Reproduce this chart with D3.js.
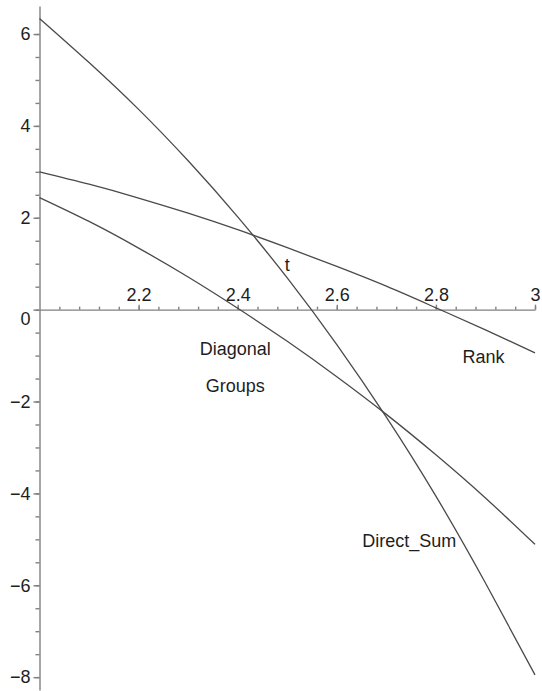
<!DOCTYPE html>
<html>
<head>
<meta charset="utf-8">
<script src="https://d3js.org/d3.v7.min.js"></script>
<style>
  body { margin: 0; background: #fff; }
  svg { display: block; }
  .axis path, .axis line { stroke: #808080; stroke-width: 1.4px; }
  .axis text { font-family: "Liberation Sans", Arial, sans-serif; font-size: 18px; fill: #1e1e1e; }
  .curve { fill: none; stroke: #4a4a4a; stroke-width: 1.3px; }
  .label { font-family: "Liberation Sans", Arial, sans-serif; font-size: 18px; fill: #1e1e1e; }
</style>
</head>
<body>
<script>
var width = 542,
    height = 691;

var tValues    = [2.0, 2.1, 2.2, 2.3, 2.4, 2.5, 2.6, 2.7, 2.8, 2.9, 3.0];
var directSum  = [6.34, 5.38, 4.36, 3.24, 2.02, 0.69, -0.76, -2.34, -4.06, -5.95, -7.95];
var rank       = [3.00, 2.73, 2.43, 2.10, 1.74, 1.35, 0.94, 0.51, 0.04, -0.44, -0.94];
var diagGroups = [2.44, 1.92, 1.34, 0.71, 0.03, -0.69, -1.46, -2.28, -3.16, -4.10, -5.11];

var xTicks = [2.2, 2.4, 2.6, 2.8, 3];
var yTicks = [-8, -6, -4, -2, 0, 2, 4, 6];

// text placed on the plot, in data coordinates
var labelText   = ["t", "Diagonal", "Groups", "Rank", "Direct_Sum"];
var labelT      = [2.495, 2.395, 2.395, 2.896, 2.841];
var labelV      = [0.84, -0.99, -1.79, -1.16, -5.17];
var labelAnchor = ["start", "middle", "middle", "middle", "end"];

var series = [directSum, rank, diagGroups];

var svg = d3.select("body").append("svg")
    .attr("width", width)
    .attr("height", height);

var x = d3.scaleLinear()
    .domain([2, 3])
    .range([39.5, 535]);

var y = d3.scaleLinear()
    .domain([-8.28, 6.61])
    .range([690, 6]);

// y axis, minor ticks first (every 0.5)
svg.append("g")
    .attr("class", "axis")
    .attr("transform", "translate(" + x(2) + ",0)")
    .call(d3.axisLeft(y)
        .tickValues(d3.range(-8, 6.01, 0.5))
        .tickSize(4)
        .tickSizeOuter(0)
        .tickFormat(""));

var yAxis = svg.append("g")
    .attr("class", "axis")
    .attr("transform", "translate(" + x(2) + ",0)")
    .call(d3.axisLeft(y)
        .tickValues(yTicks)
        .tickSize(6)
        .tickPadding(3)
        .tickSizeOuter(0)
        .tickFormat(d3.format("d")));
yAxis.select(".domain").remove();
// the 0 label sits a little under the x axis
yAxis.selectAll(".tick text")
    .filter(function(d) { return d === 0; })
    .attr("dy", "0.85em");

// x axis, minor ticks every 0.04
svg.append("g")
    .attr("class", "axis")
    .attr("transform", "translate(0," + y(0) + ")")
    .call(d3.axisTop(x)
        .tickValues(d3.range(2.04, 3.001, 0.04))
        .tickSize(3)
        .tickSizeOuter(0)
        .tickFormat(""));

var xAxis = svg.append("g")
    .attr("class", "axis")
    .attr("transform", "translate(0," + y(0) + ")")
    .call(d3.axisTop(x)
        .tickValues(xTicks)
        .tickSize(5)
        .tickPadding(4)
        .tickSizeOuter(0)
        .tickFormat(d3.format("~g")));
xAxis.select(".domain").remove();

// the three curves
var line = d3.line()
    .x(function(d) { return x(d[0]); })
    .y(function(d) { return y(d[1]); })
    .curve(d3.curveNatural);

svg.selectAll(".curve")
    .data(series)
  .enter().append("path")
    .attr("class", "curve")
    .attr("d", function(s) {
        return line(tValues.map(function(t, i) { return [t, s[i]]; }));
    });

// curve names and the t label
svg.selectAll(".label")
    .data(labelText)
  .enter().append("text")
    .attr("class", "label")
    .attr("x", function(d, i) { return x(labelT[i]); })
    .attr("y", function(d, i) { return y(labelV[i]); })
    .attr("text-anchor", function(d, i) { return labelAnchor[i]; })
    .text(function(d) { return d; });
</script>
</body>
</html>
